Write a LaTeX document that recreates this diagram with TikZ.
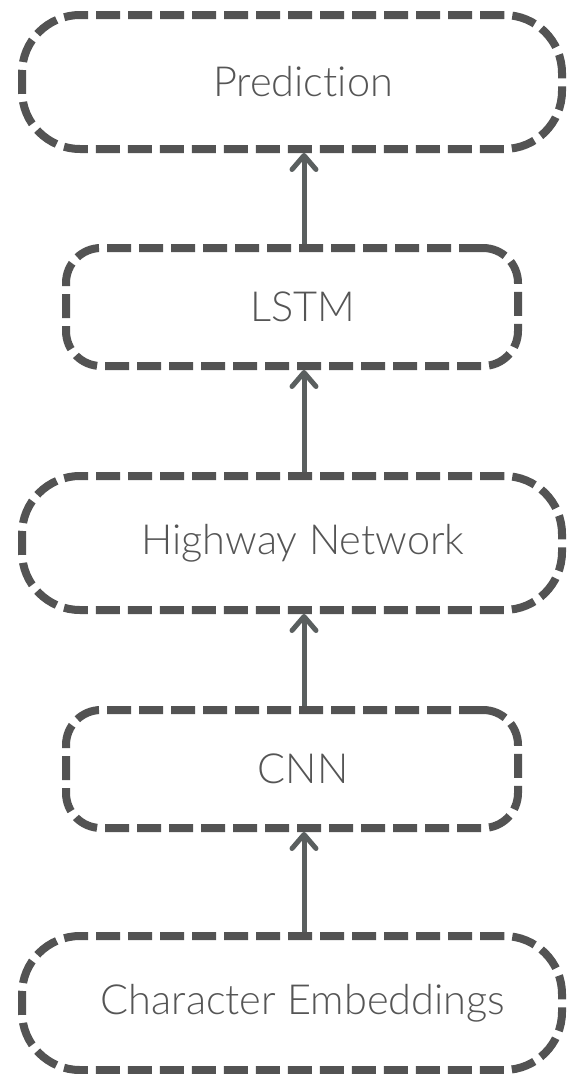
\documentclass[tikz,border=0pt]{standalone}
\usepackage{fontspec}
\setmainfont{Lato}[UprightFont=* Light, Ligatures=NoCommon]
\usetikzlibrary{arrows.meta}
\definecolor{edge}{HTML}{535353}
\definecolor{link}{HTML}{5A5F5F}
\definecolor{label}{HTML}{555555}
\tikzset{
  layer/.style={draw=edge, line width=8pt, dash pattern=on 24pt off 8pt,
    rounded corners=#1, inner sep=0pt, text=label,
    font=\fontsize{41.5}{50}\selectfont,
    % labels sit a little right of the box centre, over the arrows
    execute at begin node=\hspace*{22pt}},
  wide/.style={layer=58pt, minimum width=540pt, minimum height=134pt},
  narrow/.style={layer=35pt, minimum width=452pt, minimum height=118pt},
  flow/.style={draw=link, line width=5pt,
    -{Straight Barb[length=14pt,width=24pt,line cap=round,line join=round]}}
}
\begin{document}
\begin{tikzpicture}[x=1pt,y=-1pt]
  \useasboundingbox (0,0) rectangle (584,1074);
  \node[wide]   (pred) at (292,82)   {Prediction};
  \node[narrow] (lstm) at (292,307)  {LSTM};
  \node[wide]   (hwy)  at (292,543)  {Highway Network};
  \node[narrow] (cnn)  at (292,769)  {CNN};
  \node[wide]   (emb)  at (292,1003) {Character Embeddings};
  \coordinate (axis) at (304,0);
  \draw[flow] (emb.north -| axis)  -- (cnn.south -| axis);
  \draw[flow] (cnn.north -| axis)  -- (hwy.south -| axis);
  \draw[flow] (hwy.north -| axis)  -- (lstm.south -| axis);
  \draw[flow] (lstm.north -| axis) -- (pred.south -| axis);
\end{tikzpicture}
\end{document}
